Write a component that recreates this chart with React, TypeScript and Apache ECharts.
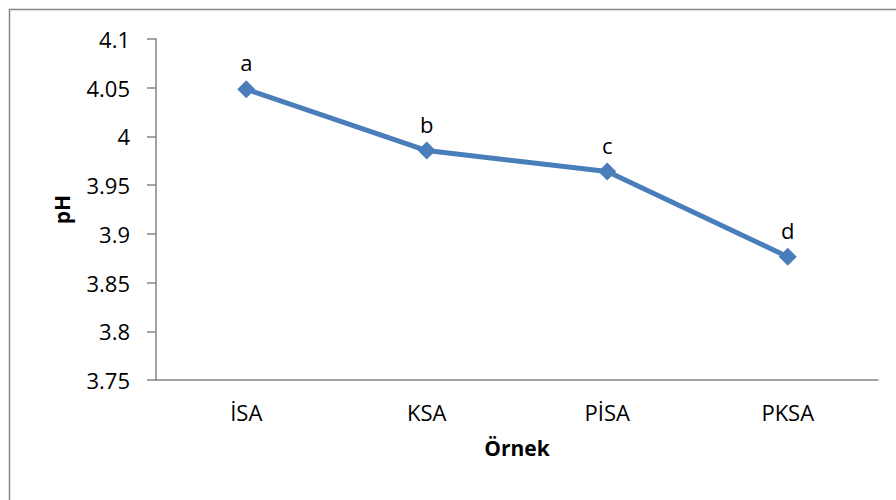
import React, { useEffect, useRef } from "react";
import * as echarts from "echarts";

// Sample groups and their measured pH
const categories = ["İSA", "KSA", "PİSA", "PKSA"];
const phValues = [4.0485, 3.9855, 3.964, 3.8765];
// Significance letters shown above each point
const groupLetters = ["a", "b", "c", "d"];

const FONT = "'Open Sans', 'Noto Sans', sans-serif";
const AXIS_GREY = "#868686";
const LINE_BLUE = "#4a7ebb";

export default function App() {
  const ref = useRef<HTMLDivElement>(null);

  useEffect(() => {
    if (!ref.current) return;
    const chart = echarts.init(ref.current, undefined, { renderer: "svg" });
    chart.setOption({
      animation: false,
      backgroundColor: "#ffffff",
      textStyle: { fontFamily: FONT },
      graphic: [
        {
          type: "rect",
          shape: { x: 9.5, y: 9.5, width: 1000, height: 1000 },
          style: { fill: "none", stroke: AXIS_GREY, lineWidth: 1.5 },
          silent: true,
        },
      ],
      grid: { left: 156, right: 18, top: 39, bottom: 120, containLabel: false },
      xAxis: {
        type: "category",
        data: categories,
        boundaryGap: true,
        name: "Örnek",
        nameLocation: "middle",
        nameGap: 57,
        nameTextStyle: { fontFamily: FONT, fontSize: 21, fontWeight: "bold", color: "#000" },
        axisLine: { lineStyle: { color: AXIS_GREY, width: 1.5 } },
        axisTick: { show: false },
        axisLabel: { fontFamily: FONT, fontSize: 22, color: "#000", margin: 21 },
        splitLine: { show: false },
      },
      yAxis: {
        type: "value",
        min: 3.75,
        max: 4.1,
        interval: 0.05,
        name: "pH",
        nameLocation: "middle",
        nameGap: 84,
        nameRotate: 90,
        nameTextStyle: { fontFamily: FONT, fontSize: 21, fontWeight: "bold", color: "#000" },
        axisLine: { show: true, lineStyle: { color: AXIS_GREY, width: 1.5 } },
        axisTick: { show: true, length: 9, lineStyle: { color: AXIS_GREY, width: 1.5 } },
        axisLabel: {
          fontFamily: FONT,
          fontSize: 22,
          color: "#000",
          margin: 26,
          formatter: (v: number) => String(parseFloat(v.toFixed(2))),
        },
        splitLine: { show: false },
      },
      series: [
        {
          type: "line",
          data: phValues,
          symbol: "diamond",
          symbolSize: 18,
          lineStyle: { color: LINE_BLUE, width: 5 },
          itemStyle: { color: LINE_BLUE },
          label: {
            show: true,
            position: "top",
            distance: 7,
            fontFamily: FONT,
            fontSize: 22,
            color: "#000",
            formatter: (p: any) => groupLetters[p.dataIndex],
          },
        },
      ],
    });
    return () => chart.dispose();
  }, []);

  return (
    <div
      ref={ref}
      style={{ position: "absolute", left: 0, top: 0, width: 896, height: 500 }}
    />
  );
}
